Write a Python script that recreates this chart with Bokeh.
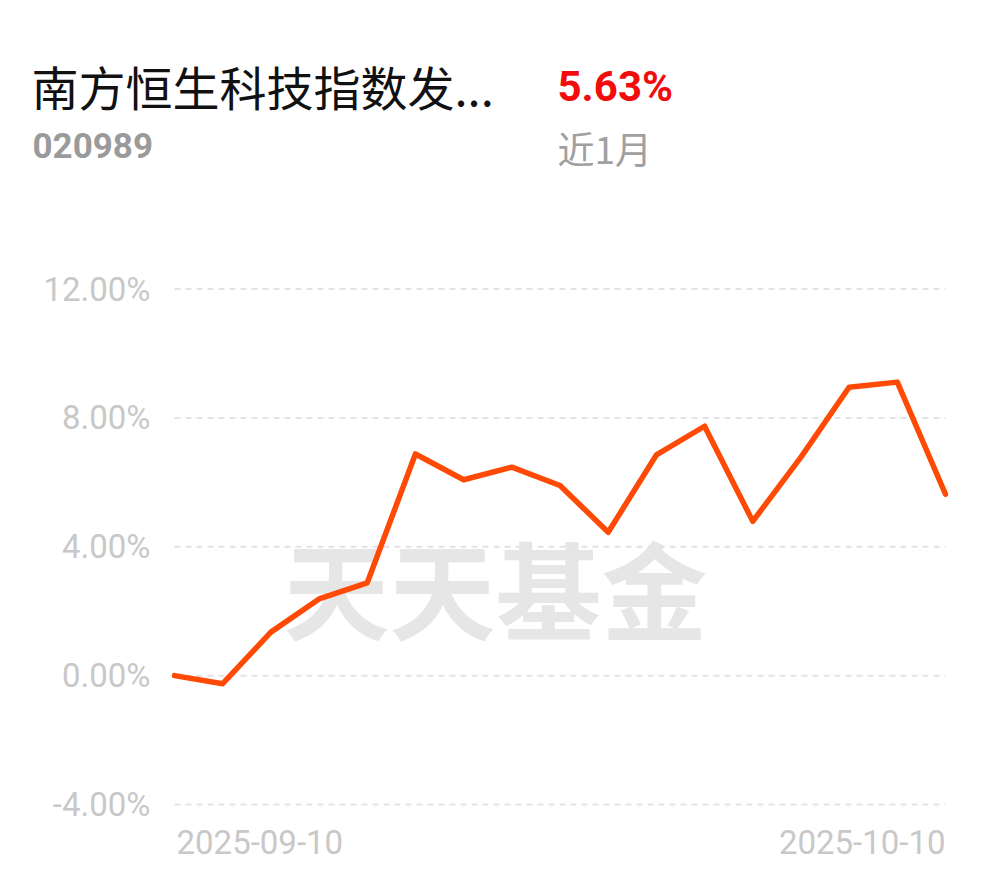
from bokeh.plotting import figure
from bokeh.models import Label, Range1d
from bokeh.core.properties import value
from bokeh.embed import file_html
from bokeh.resources import INLINE

# ---- data ----
dates = ["2025-09-10", "2025-09-11", "2025-09-12", "2025-09-15", "2025-09-16",
         "2025-09-17", "2025-09-18", "2025-09-19", "2025-09-22", "2025-09-23",
         "2025-09-24", "2025-09-25", "2025-09-26", "2025-09-29", "2025-09-30",
         "2025-10-09", "2025-10-10"]
returns = [0.00, -0.25, 1.35, 2.38, 2.88, 6.88, 6.08, 6.47, 5.90, 4.45,
           6.85, 7.74, 4.79, 6.78, 8.95, 9.11, 5.63]
y_ticks = [-4, 0, 4, 8, 12]
y_tick_labels = ["-4.00%", "0.00%", "4.00%", "8.00%", "12.00%"]
fund_name = "南方恒生科技指数发..."
fund_code = "020989"
period_return = "5.63%"
period_label = "近1月"
watermark = "天天基金"

# ---- layout (pixels) ----
W, H = 985, 875
X0_PX, X1_PX = 174, 945          # first / last point
YTOP_PX, YBOT_PX = 288.5, 804.0  # top / bottom gridline

idx = list(range(len(dates)))
n = len(dates) - 1
xs_per = (X1_PX - X0_PX) / n
ys_per = (YBOT_PX - YTOP_PX) / (y_ticks[-1] - y_ticks[0])
x_range = Range1d(0 - X0_PX / xs_per, n + (W - X1_PX) / xs_per)
y_range = Range1d(y_ticks[0] - (H - YBOT_PX) / ys_per, y_ticks[-1] + YTOP_PX / ys_per)

p = figure(width=W, height=H, output_backend="svg", toolbar_location=None,
           x_range=x_range, y_range=y_range,
           x_axis_location=None, y_axis_location=None,
           min_border=0)
p.outline_line_color = None
p.grid.visible = False
p.background_fill_color = "white"
p.border_fill_color = "white"

# watermark
p.add_layout(Label(x=495, y=H - 585, x_units="screen", y_units="screen", text=watermark,
                   text_font="Noto Sans CJK SC", text_font_style="bold",
                   text_font_size="106px", text_color="#e6e6e6",
                   text_align="center", text_baseline="middle", level="image"))

# gridlines
p.segment(x0=[idx[0]] * len(y_ticks), x1=[idx[-1]] * len(y_ticks), y0=y_ticks, y1=y_ticks,
          line_color="#e3e3e3", line_width=2, line_dash="6 5", level="underlay")

# y tick labels
p.text(x=[idx[0]] * len(y_ticks), y=y_ticks, text=y_tick_labels, x_offset=-24,
       text_align="right", text_baseline="middle", text_font=value("Roboto"),
       text_font_size="33px", text_color="#c8c8c8")

# date labels
p.text(x=[idx[0]], y=[y_ticks[0]], text=[dates[0]], x_offset=2, y_offset=37,
       text_align="left", text_baseline="middle", text_font=value("Roboto"),
       text_font_size="33px", text_color="#c8c8c8")
p.text(x=[idx[-1]], y=[y_ticks[0]], text=[dates[-1]], y_offset=37,
       text_align="right", text_baseline="middle", text_font=value("Roboto"),
       text_font_size="33px", text_color="#c8c8c8")

# line
p.line(idx, returns, line_color="#ff4a05", line_width=5.5,
       line_join="round", line_cap="round")

# header texts
p.add_layout(Label(x=31, y=H - 85, x_units="screen", y_units="screen", text=fund_name,
                   text_font="Noto Sans CJK SC", text_font_size="47px",
                   text_color="#111111", text_baseline="middle"))
p.add_layout(Label(x=557, y=H - 86, x_units="screen", y_units="screen", text=period_return,
                   text_font="Roboto", text_font_style="bold", text_font_size="42px",
                   text_color="#f20d0d", text_baseline="middle"))
p.add_layout(Label(x=32, y=H - 145, x_units="screen", y_units="screen", text=fund_code,
                   text_font="Roboto", text_font_style="bold", text_font_size="35px",
                   text_color="#9a9a9a", text_baseline="middle"))
p.add_layout(Label(x=557, y=H - 147, x_units="screen", y_units="screen", text=period_label,
                   text_font="Noto Sans CJK SC", text_font_size="37px",
                   text_color="#a0a0a0", text_baseline="middle"))

open("out.html", "w").write(file_html(p, INLINE))
